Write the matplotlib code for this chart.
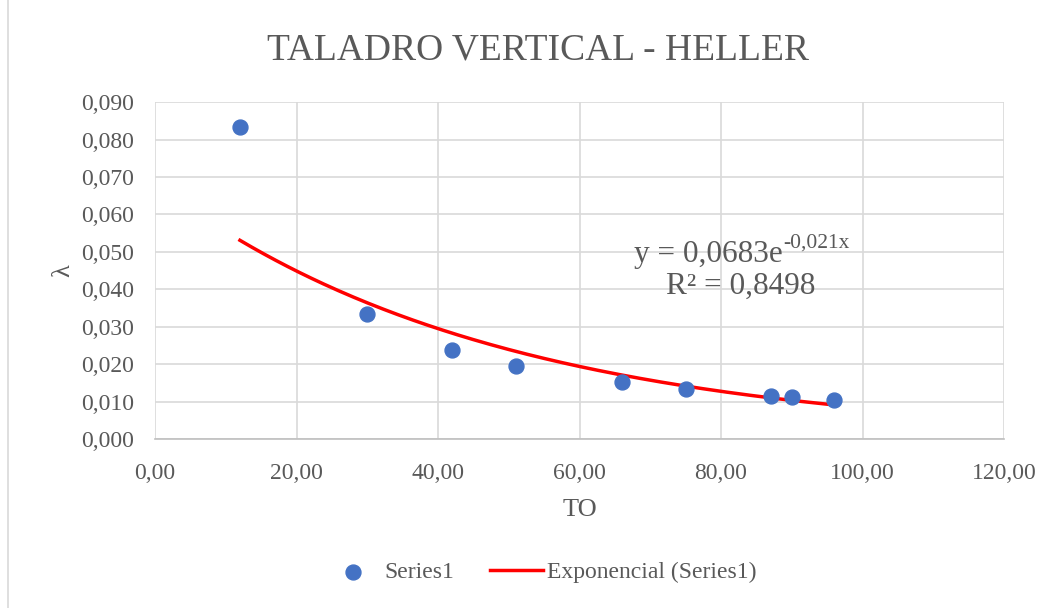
import numpy as np
import matplotlib
matplotlib.use("Agg")
import matplotlib.pyplot as plt
from matplotlib.ticker import FuncFormatter, MultipleLocator
from matplotlib.patches import Rectangle

# datos
to_vals = [12, 30, 42, 51, 66, 75, 87, 90, 96]
lam_vals = [0.0833, 0.0333, 0.0238, 0.0196, 0.0152, 0.0133, 0.0115, 0.0111, 0.0104]
# linea de tendencia mostrada en el grafico: y = a * e^(b x)
trend_a = 0.0683
trend_b = -0.021
eq_main = "y = 0,0683e"
eq_sup = "-0,021x"
r2_label = "R² = 0,8498"

plt.rcParams['font.family'] = ['Liberation Serif', 'DejaVu Serif']

gray = '#595959'
grid = '#d9d9d9'

fig = plt.figure(figsize=(10.62, 6.08), dpi=100)
ax = fig.add_axes([0.146, 0.278, 0.7994, 0.554])

x = np.array(to_vals, dtype=float)
y = np.array(lam_vals)
xs = np.linspace(x.min(), x.max(), 200)
ax.plot(xs, trend_a * np.exp(trend_b * xs), color='#ff0000', lw=2.5,
        label='Exponencial (Series1)', zorder=2)
ax.scatter(x, y, s=115, color='#4472c4', label='Series1', zorder=3)

ax.set_xlim(0, 120)
ax.set_ylim(0, 0.09)
ax.xaxis.set_major_locator(MultipleLocator(20))
ax.yaxis.set_major_locator(MultipleLocator(0.01))
ax.xaxis.set_major_formatter(FuncFormatter(lambda v, p: f"{v:.2f}".replace('.', ',')))
ax.yaxis.set_major_formatter(FuncFormatter(lambda v, p: f"{v:.3f}".replace('.', ',')))
ax.grid(True, color=grid, lw=1.2)
ax.set_axisbelow(True)
for s in ['top', 'right', 'left']:
    ax.spines[s].set_visible(False)
ax.spines['bottom'].set_color('#bfbfbf')
ax.spines['bottom'].set_linewidth(1.2)
ax.tick_params(length=0, labelsize=17, colors=gray)
ax.tick_params(axis='y', pad=15)
ax.tick_params(axis='x', pad=17)

ax.set_xlabel('TO', fontsize=19, color=gray, labelpad=11)
ax.set_ylabel('λ', fontsize=19, color=gray, labelpad=5)
fig.suptitle('TALADRO VERTICAL - HELLER', fontsize=27, color=gray, x=0.5066, y=0.945)

ax.text(0.7397, 0.525, eq_main, transform=ax.transAxes, fontsize=22.5, color=gray,
        ha='right', va='baseline')
ax.annotate(eq_sup, xy=(0.7397, 0.525), xycoords='axes fraction', xytext=(0, 10.8),
            textcoords='offset points', fontsize=15.5, color=gray, ha='left', va='baseline')
ax.text(0.690, 0.430, r2_label, transform=ax.transAxes, fontsize=22.5, color=gray,
        ha='center', va='baseline')

h, l = ax.get_legend_handles_labels()
fig.legend(h[::-1], l[::-1], loc='center', bbox_to_anchor=(0.51, 0.059), ncol=2,
           frameon=False, fontsize=17, labelcolor=gray, handlelength=2.25,
           handletextpad=0.2, columnspacing=1.5)

fig.patches.append(Rectangle((0.008, -0.01), 1.1, 1.1, transform=fig.transFigure,
                             fill=False, edgecolor=grid, lw=1.2))

fig.savefig('out.png', dpi=100)
